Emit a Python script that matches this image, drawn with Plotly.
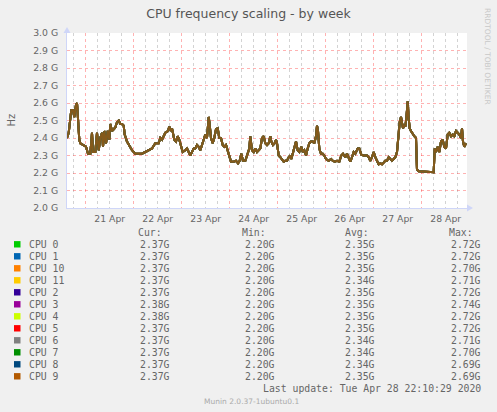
import pandas as pd
import plotly.graph_objects as go

# hours after 21 Apr 2020 00:00, and frequency in GHz
# (all twelve cores sit on top of each other, so one curve is shared)
hours = [-9.35, -8.5, -7.7, -7.2, -6.35, -5.7, -4.85, -4.35, -3.85, -3.2, -2.7, -1.0,
         0.15, 1.15, 2.3, 3.15, 3.65, 4.8, 5.65, 6.5, 7.3, 8.15, 8.65, 9.3, 10.15, 11.0,
         11.8, 12.3, 13.15, 14.0, 14.8, 15.65, 16.5, 17.3, 18.15, 19.0, 19.5, 20.65, 21.5,
         23.15, 24.8, 26.5, 28.15, 29.8, 31.5, 33.15, 34.8, 36.5, 37.3, 38.15, 39.8,
         41.15, 41.8, 42.65, 43.15, 43.65, 44.3, 45.15, 46.0, 46.8, 47.65, 48.5, 49.8,
         50.65, 51.5, 52.3, 53.15, 54.0, 54.8, 55.65, 56.5, 57.3, 58.15, 59.0, 59.8,
         60.65, 61.5, 62.0, 62.65, 63.5, 64.3, 65.15, 66.0, 66.8, 67.65, 68.5, 69.3,
         70.15, 71.0, 71.8, 72.65, 74.0, 75.15, 76.15, 77.0, 77.8, 78.65, 79.8, 80.8,
         81.8, 82.3, 83.15, 84.0, 84.8, 85.65, 86.5, 87.3, 88.15, 89.0, 89.8, 90.65,
         91.5, 92.3, 92.8, 93.65, 94.5, 95.15, 95.65, 96.5, 97.3, 98.15, 99.0, 99.8,
         100.65, 101.5, 102.3, 102.8, 103.5, 104.3, 105.15, 106.0, 106.8, 107.8, 108.5,
         109.3, 110.15, 111.0, 111.8, 112.65, 113.5, 114.3, 115.15, 115.65, 116.15,
         116.8, 117.65, 118.5, 119.3, 120.15, 121.5, 122.65, 123.5, 124.5, 125.65,
         126.8, 127.8, 128.65, 129.8, 130.65, 131.5, 132.3, 133.15, 134.0, 134.8, 136.0,
         136.8, 137.8, 139.0, 140.15, 140.65, 141.5, 142.3, 143.15, 144.0, 144.8, 145.65,
         146.5, 147.3, 148.15, 149.0, 149.8, 150.65, 151.5, 152.3, 153.15, 154.0, 154.8,
         155.65, 156.5, 157.0, 157.65, 158.15, 158.65, 159.3, 159.8, 160.3, 161.0, 161.5,
         162.0, 162.65, 163.5, 164.3, 165.15, 165.65, 166.5, 174.0, 174.5, 175.15, 176.0,
         176.8, 177.65, 178.5, 179.3, 180.15, 181.0, 181.8, 182.65, 183.5, 184.3, 185.15,
         186.0, 186.8, 187.65, 188.15, 188.65, 189.3, 190.15]
ghz = [2.40, 2.43, 2.51, 2.56, 2.56, 2.52, 2.59, 2.60, 2.51, 2.39, 2.37, 2.36,
       2.35, 2.31, 2.31, 2.43, 2.32, 2.32, 2.43, 2.33, 2.40, 2.43, 2.35, 2.44, 2.37, 2.44,
       2.39, 2.48, 2.44, 2.45, 2.46, 2.49, 2.50, 2.48, 2.48, 2.47, 2.42, 2.38, 2.36,
       2.33, 2.31, 2.31, 2.31, 2.32, 2.33, 2.34, 2.37, 2.37, 2.40, 2.39, 2.43,
       2.44, 2.465, 2.44, 2.455, 2.43, 2.39, 2.38, 2.41, 2.39, 2.36, 2.32, 2.33,
       2.34, 2.32, 2.30, 2.32, 2.34, 2.34, 2.36, 2.35, 2.33, 2.36, 2.40, 2.42,
       2.40, 2.52, 2.475, 2.40, 2.37, 2.40, 2.45, 2.455, 2.40, 2.40, 2.36, 2.35,
       2.36, 2.33, 2.29, 2.265, 2.265, 2.27, 2.255, 2.27, 2.31, 2.27, 2.27, 2.30,
       2.34, 2.41, 2.33, 2.32, 2.34, 2.32, 2.33, 2.34, 2.40, 2.41, 2.37, 2.36,
       2.37, 2.41, 2.38, 2.36, 2.37, 2.39, 2.37, 2.30, 2.29, 2.28, 2.265, 2.27,
       2.27, 2.29, 2.30, 2.28, 2.31, 2.33, 2.38, 2.33, 2.32, 2.35, 2.32,
       2.33, 2.30, 2.34, 2.37, 2.38, 2.38, 2.37, 2.41, 2.47, 2.44,
       2.34, 2.31, 2.31, 2.30, 2.28, 2.27, 2.28, 2.27, 2.265, 2.27,
       2.265, 2.30, 2.31, 2.29, 2.31, 2.28, 2.265, 2.29, 2.32, 2.31, 2.34,
       2.34, 2.305, 2.30, 2.30, 2.30, 2.29, 2.27, 2.29, 2.32, 2.29, 2.265,
       2.25, 2.255, 2.25, 2.26, 2.27, 2.27, 2.29, 2.28, 2.27, 2.28, 2.29,
       2.32, 2.42, 2.49, 2.52, 2.49, 2.455, 2.475, 2.465, 2.51, 2.61, 2.51,
       2.455, 2.44, 2.42, 2.41, 2.40, 2.22, 2.21, 2.205, 2.34, 2.32, 2.35,
       2.32, 2.38, 2.39, 2.35, 2.34, 2.42, 2.43, 2.41, 2.42, 2.41, 2.44,
       2.43, 2.42, 2.40, 2.455, 2.38, 2.35, 2.37]

cpus = ["CPU 0", "CPU 1", "CPU 10", "CPU 11", "CPU 2", "CPU 3",
        "CPU 4", "CPU 5", "CPU 6", "CPU 7", "CPU 8", "CPU 9"]
colors = ["#00CC00", "#0066B3", "#FF8000", "#FFCC00", "#330099", "#990099",
          "#CCFF00", "#FF0000", "#808080", "#008F00", "#00487D", "#B35A00"]
cur = ["2.37G", "2.37G", "2.37G", "2.37G", "2.37G", "2.38G",
       "2.38G", "2.37G", "2.37G", "2.37G", "2.37G", "2.37G"]
mins = ["2.20G"] * 12
avgs = ["2.35G", "2.35G", "2.35G", "2.34G", "2.35G", "2.35G",
        "2.35G", "2.35G", "2.34G", "2.34G", "2.34G", "2.35G"]
maxs = ["2.72G", "2.72G", "2.70G", "2.71G", "2.72G", "2.74G",
        "2.72G", "2.72G", "2.71G", "2.70G", "2.69G", "2.69G"]
y_ticks = [2.0, 2.1, 2.2, 2.3, 2.4, 2.5, 2.6, 2.7, 2.8, 2.9, 3.0]

base = pd.Timestamp("2020-04-21 00:00")
times = base + pd.to_timedelta(hours, unit="h")
hz = [v * 1e9 for v in ghz]

FONT = "#666666"


# plot area is 400x175 px starting at (67, 33); helpers turn image pixels into paper units
def px_x(p):
    return (p - 67) / 400


def px_y(p):
    return (208 - p) / 175


fig = go.Figure()
for name, col in zip(cpus, colors):
    fig.add_trace(go.Scatter(x=times, y=hz, mode="lines", name=name,
                             line=dict(color=col, width=2), opacity=0.72,
                             showlegend=False, hoverinfo="skip"))

fig.update_layout(
    width=497, height=412,
    margin=dict(l=67, r=30, t=33, b=204),
    paper_bgcolor="#F0F0F0", plot_bgcolor="#FFFFFF",
    font=dict(family="DejaVu Sans", color=FONT, size=9.3),
    title=dict(text="CPU frequency scaling - by week", x=0.5, xref="container",
               y=1 - 14 / 412, yanchor="middle",
               font=dict(family="DejaVu Sans", size=12.5, color="#555555")),
)

fig.update_xaxes(
    type="date",
    range=[base + pd.Timedelta(hours=-9.35), base + pd.Timedelta(hours=190.65)],
    tick0=base, dtick=86400000, tickformat="%d %b", ticklabelmode="period",
    showgrid=True, gridcolor="rgba(255,0,0,0.3)", griddash="dot", gridwidth=1,
    minor=dict(dtick=6 * 3600000, tick0=base, showgrid=True,
               gridcolor="rgba(128,128,128,0.35)", griddash="dot", gridwidth=1),
    showline=True, linecolor="#CFD6F8", linewidth=1, zeroline=False,
    ticks="", ticklabelstandoff=2, tickfont=dict(size=9.3, color=FONT),
    automargin=False,
)
fig.update_yaxes(
    range=[2.0e9, 3.0e9],
    tickvals=[v * 1e9 for v in y_ticks],
    ticktext=[f"{v:.1f} G" for v in y_ticks],
    showgrid=True, gridcolor="rgba(255,0,0,0.3)", griddash="dot", gridwidth=1,
    showline=True, linecolor="#CFD6F8", linewidth=1, zeroline=False,
    ticks="", ticklabelstandoff=6, tickfont=dict(size=9.3, color=FONT),
    automargin=False,
)

# axis arrow heads
fig.add_shape(type="path", xref="paper", yref="paper",
              path=f"M {px_x(63.5)} {px_y(33)} L {px_x(70.5)} {px_y(33)} L {px_x(67)} {px_y(27)} Z",
              fillcolor="#CFD6F8", line=dict(width=0))
fig.add_shape(type="path", xref="paper", yref="paper",
              path=f"M {px_x(467)} {px_y(204.5)} L {px_x(467)} {px_y(211.5)} L {px_x(473)} {px_y(208)} Z",
              fillcolor="#CFD6F8", line=dict(width=0))

fig.add_annotation(text="Hz", x=px_x(10.5), y=px_y(120), xref="paper", yref="paper",
                   xanchor="center", yanchor="middle",
                   textangle=-90, showarrow=False, font=dict(size=10, color=FONT))
fig.add_annotation(text="RRDTOOL / TOBI OETIKER", x=px_x(488), y=px_y(56),
                   xref="paper", yref="paper", xanchor="center", yanchor="middle",
                   textangle=90, showarrow=False,
                   font=dict(size=7.5, color="#C8C8C8"))

mono = dict(family="DejaVu Sans Mono", size=9.8, color=FONT)
for label, left in [("Cur:", 136), ("Min:", 240), ("Avg:", 343), ("Max:", 447)]:
    fig.add_annotation(text=label, x=px_x(left), y=px_y(232.5), xref="paper", yref="paper",
                       xanchor="left", yanchor="middle", showarrow=False, font=mono)

for i, name in enumerate(cpus):
    row = 244.3 + 12 * i
    fig.add_shape(type="rect", xref="paper", yref="paper",
                  x0=px_x(14), x1=px_x(20.5), y0=px_y(row - 3.2), y1=px_y(row + 3.2),
                  fillcolor=colors[i], line=dict(width=0))
    fig.add_annotation(text=name, x=px_x(26.5), y=px_y(row), xref="paper", yref="paper",
                       xanchor="left", yanchor="middle", showarrow=False, font=mono)
    for val, right in [(cur[i], 172), (mins[i], 276.5), (avgs[i], 376.5), (maxs[i], 482.5)]:
        fig.add_annotation(text=val, x=px_x(right), y=px_y(row), xref="paper", yref="paper",
                           xanchor="right", yanchor="middle", showarrow=False, font=mono)

fig.add_annotation(text="Last update: Tue Apr 28 22:10:29 2020", x=px_x(482.5), y=px_y(388.3),
                   xref="paper", yref="paper", xanchor="right", yanchor="middle",
                   showarrow=False, font=mono)
fig.add_annotation(text="Munin 2.0.37-1ubuntu0.1", x=px_x(251), y=px_y(401),
                   xref="paper", yref="paper", xanchor="center", yanchor="middle",
                   showarrow=False, font=dict(family="DejaVu Sans", size=7.5, color="#AAAAAA"))

# the page body has a default 8px margin; drop it so the figure sits at the window corner
fig.write_html("out.html", config={"displayModeBar": False},
               post_script="document.body.style.margin = '0';")
